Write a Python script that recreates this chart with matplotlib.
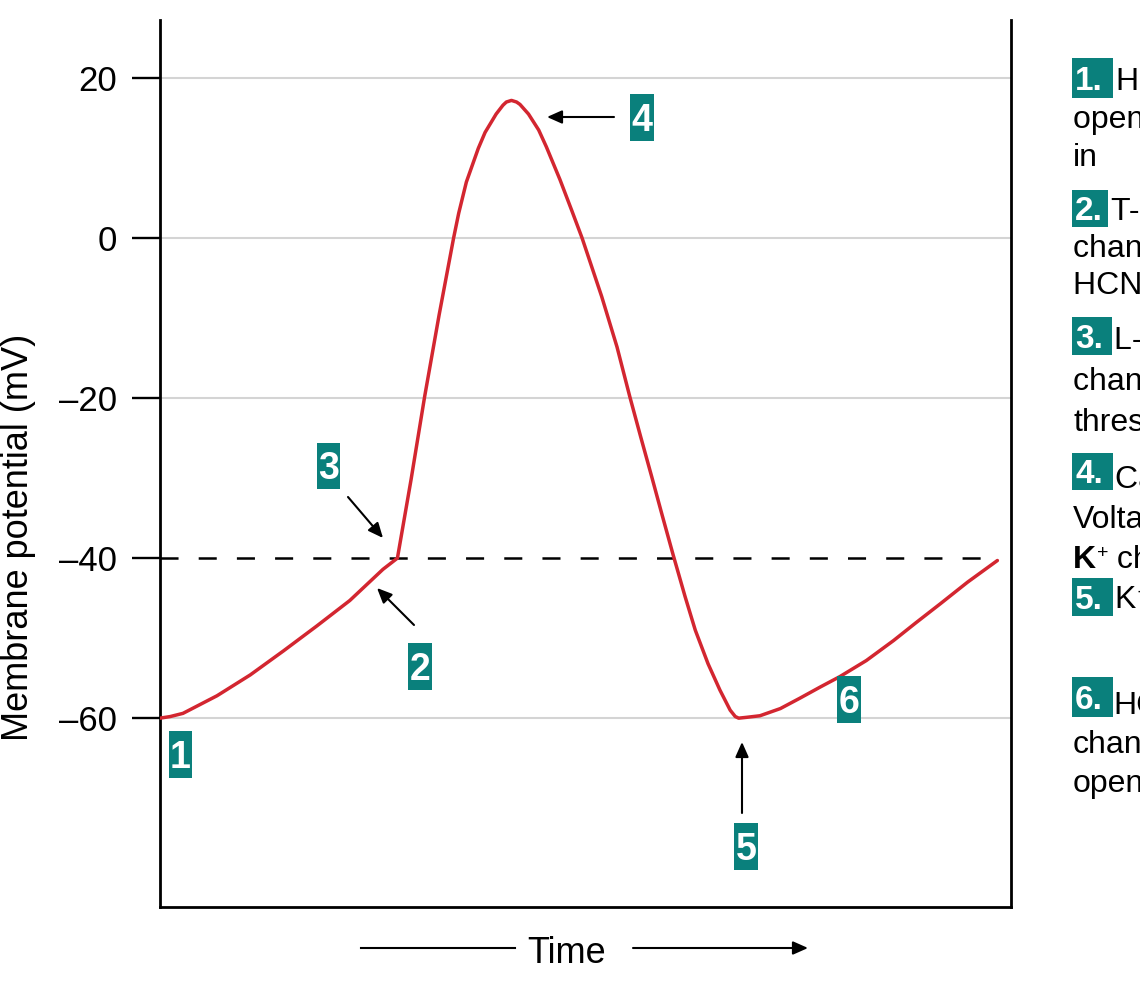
import matplotlib
matplotlib.use('Agg')
import matplotlib.pyplot as plt
from matplotlib.patches import Rectangle, FancyArrowPatch
from matplotlib.lines import Line2D

plt.rcParams['font.family'] = ['Liberation Sans', 'DejaVu Sans']
plt.rcParams['lines.scale_dashes'] = False

# ---------------- data ----------------
time_units = [0.0, 1.2, 2.7, 6.7, 10.6, 14.5, 18.4, 22.3, 26.2, 27.9,
              29.5, 31.1, 32.8, 34.5, 35.1, 36.0, 37.4,
              38.2, 39.5, 40.3, 40.7, 41.3, 41.9, 42.3, 43.3, 44.5, 45.4,
              47.0, 48.4, 49.6, 51.9, 53.7, 55.2, 56.5, 57.8, 59.0,
              60.3, 61.7, 62.9, 64.4, 65.8, 67.0, 67.6, 68.0, 68.9, 70.5,
              72.9, 75.2, 77.6, 79.9, 83.0, 86.2, 88.8, 91.7, 94.9, 98.4]
membrane_mv = [-60.0, -59.8, -59.4, -57.2, -54.6, -51.6, -48.5, -45.3, -41.4, -40.0,
               -30.2, -19.8, -9.6, 0.0, 3.1, 7.0, 11.2,
               13.2, 15.5, 16.6, 17.0, 17.2, 17.0, 16.7, 15.5, 13.5, 11.4,
               7.3, 3.4, 0.0, -7.3, -13.6, -19.8, -24.9, -29.9, -34.6,
               -39.6, -44.8, -49.0, -53.2, -56.5, -59.0, -59.8, -60.0, -59.9, -59.7,
               -58.8, -57.5, -56.1, -54.8, -52.8, -50.3, -48.1, -45.7, -43.0, -40.3]
threshold_mv = -40
grid_levels = [20, 0, -20, -60]
y_ticks = [20, 0, -20, -40, -60]
y_tick_labels = ['20', '0', '\u201320', '\u201340', '\u201360']
y_label = 'Membrane potential (mV)'
x_label = 'Time'
step_numbers = ['1', '2', '3', '4', '5', '6']
side_notes = [
    ['HCN channels', 'open; Na\u207a moves', 'in'],
    ['T-type Ca\u00b2\u207a', 'channels open;', 'HCN close'],
    ['L-type Ca\u00b2\u207a', 'channels open at', 'threshold'],
    ['Ca\u00b2\u207a channels close;', 'Voltage-gated', None],
    ['K\u207a channels close'],
    ['HCN', 'channels', 'open'],
]

W, H = 1140, 1000
TEAL = '#0a807c'
RED = '#d32630'

fig = plt.figure(figsize=(W / 100, H / 100), dpi=100)
ax = fig.add_axes([160 / W, 1 - 907 / H, (1011 - 160) / W, (907 - 20) / H])
ax.set_xlim(0, 100)
ax.set_ylim(-83.6, 27.25)

for g in grid_levels:
    ax.axhline(g, color='#d4d4d4', lw=1.5, zorder=1)
ax.axhline(threshold_mv, xmin=0, xmax=0.985, color='black', lw=1.8,
           dashes=(13, 14.5), zorder=2)
ax.plot(time_units, membrane_mv, color=RED, lw=2.5, zorder=3,
        solid_joinstyle='round', solid_capstyle='round')

ax.spines['top'].set_visible(False)
for s in ['left', 'bottom', 'right']:
    ax.spines[s].set_linewidth(2.0)
ax.set_xticks([])
ax.set_yticks(y_ticks)
ax.set_yticklabels(y_tick_labels)
ax.tick_params(axis='y', direction='out', length=20, width=1.7, pad=11,
               labelsize=25)


def fx(x):
    return x / W


def fy(y):
    return 1 - y / H


def num_box(x0, y0, x1, y1, label, fs, tx=None):
    fig.add_artist(Rectangle((fx(x0), fy(y1)), (x1 - x0) / W, (y1 - y0) / H,
                             transform=fig.transFigure, fc=TEAL, ec='none',
                             zorder=5))
    cap = 0.716 * fs * 100 / 72
    base = (y0 + y1) / 2 + cap / 2
    if tx is None:
        fig.text(fx((x0 + x1) / 2), fy(base), label, color='white',
                 fontweight='bold', fontsize=fs, ha='center', va='baseline',
                 zorder=6)
    else:
        fig.text(fx(tx), fy(base), label, color='white',
                 fontweight='bold', fontsize=fs, ha='left', va='baseline',
                 zorder=6)


def arrow(x0, y0, x1, y1):
    fig.add_artist(FancyArrowPatch(
        (fx(x0), fy(y0)), (fx(x1), fy(y1)), transform=fig.transFigure,
        arrowstyle='-|>,head_length=0.45,head_width=0.2', mutation_scale=20,
        color='black', lw=1.5, shrinkA=0, shrinkB=0, zorder=6))


# numbered boxes on the trace
in_boxes = [(169, 731, 192, 778), (408, 643, 432, 690), (317, 443, 340, 489),
            (630, 94, 654, 141), (734, 823, 758, 870), (837, 676, 861, 723)]
for (x0, y0, x1, y1), lab in zip(in_boxes, step_numbers):
    num_box(x0, y0, x1, y1, lab, 27)

# arrows
arrow(614, 117, 547, 117)   # 4
arrow(348, 497, 383, 538)   # 3
arrow(414, 625, 377, 588)   # 2
arrow(742, 813, 742, 742)   # 5

# axis labels
fig.text(fx(36), fy(537), y_label, rotation=90, ha='right', va='center',
         fontsize=26)
fig.text(fx(567), fy(963), x_label, ha='center', va='baseline', fontsize=26)
fig.add_artist(Line2D([fx(361), fx(515)], [fy(948), fy(948)],
                      transform=fig.transFigure, color='black', lw=1.5))
arrow(633, 948, 808, 948)

# side notes
side_boxes = [(1072, 58, 1113, 98), (1072, 190, 1108, 227), (1072, 317, 1112, 355),
              (1072, 453, 1113, 490), (1072, 578, 1113, 616), (1072, 677, 1113, 717)]
first_x = [1116, 1111, 1114, 1115, 1115, 1113]
baselines = [[90, 128, 166], [220, 257, 294], [349, 390, 431],
             [488, 528, 568], [608], [714, 753, 792]]
for i, (box, lines) in enumerate(zip(side_boxes, side_notes)):
    num_box(box[0], box[1], box[2], box[3], step_numbers[i] + '.', 24,
            tx=box[0] + 3)
    for j, line in enumerate(lines):
        xb = first_x[i] if j == 0 else 1073
        if line is None:
            fig.text(fx(1073), fy(baselines[i][j]), 'K', fontweight='bold',
                     fontsize=23, ha='left', va='baseline')
            fig.text(fx(1097), fy(baselines[i][j] - 10), '+', fontsize=14,
                     ha='left', va='baseline')
            fig.text(fx(1108), fy(baselines[i][j]), ' channels open',
                     fontsize=23, ha='left', va='baseline')
        else:
            fig.text(fx(xb), fy(baselines[i][j]), line, fontsize=23,
                     ha='left', va='baseline')

fig.savefig('out.png', dpi=100)
